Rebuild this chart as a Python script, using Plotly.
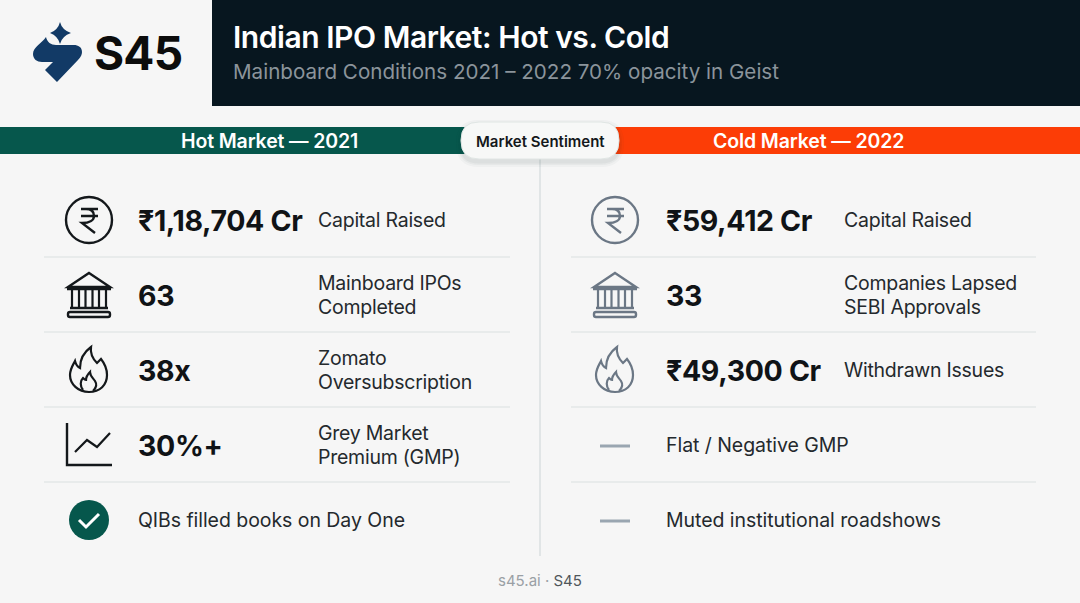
import plotly.graph_objects as go

W, H = 1080, 603
FONT = "Inter"

title = "Indian IPO Market: Hot vs. Cold"
subtitle = "Mainboard Conditions 2021 – 2022 70% opacity in Geist"
brand = "S45"
hot_header = "Hot Market — 2021"
cold_header = "Cold Market — 2022"
pill_text = "Market Sentiment"

hot_values = ["₹1,18,704 Cr", "63", "38x", "30%+", ""]
hot_labels = ["Capital Raised", "Mainboard IPOs\nCompleted", "Zomato\nOversubscription",
              "Grey Market\nPremium (GMP)", ""]
hot_notes = ["", "", "", "", "QIBs filled books on Day One"]
hot_icons = ["rupee", "bank", "flame", "chart", "check"]

cold_values = ["₹59,412 Cr", "33", "₹49,300 Cr", "", ""]
cold_labels = ["Capital Raised", "Companies Lapsed\nSEBI Approvals", "Withdrawn Issues", "", ""]
cold_notes = ["", "", "", "Flat / Negative GMP", "Muted institutional roadshows"]
cold_icons = ["rupee", "bank", "flame", "dash", "dash"]

row_y = [220, 295, 370, 445, 520]
sep_y = [257, 332, 407, 482]

BG = "#f6f6f6"
NAVY = "#07161f"
GREEN = "#06574c"
ORANGE = "#fc3d06"
INK = "#14181b"
SEP = "#d9dfe0"
HOT_ICON = "#14181b"
COLD_ICON = "#6b7785"
LOGO = "#123a66"

shapes = []
annotations = []


def text(x, y, s, size, color=INK, weight=400, anchor="left", spacing=0):
    if spacing:
        s = f'<span style="letter-spacing:{spacing}px">{s}</span>'
    annotations.append(dict(x=x, y=y, text=s, showarrow=False, xanchor=anchor, yanchor="middle",
                            borderpad=0, font=dict(family=FONT, size=size, color=color, weight=weight)))


def rect(x0, y0, x1, y1, fill):
    shapes.append(dict(type="rect", x0=x0, y0=y0, x1=x1, y1=y1, fillcolor=fill, line_width=0))


def path(d, fill=None, line=None, width=0):
    shapes.append(dict(type="path", path=d, fillcolor=fill or "rgba(0,0,0,0)",
                       line=dict(color=line or "rgba(0,0,0,0)", width=width)))


def rounded(x0, y0, x1, y1, r):
    return (f"M{x0+r},{y0} L{x1-r},{y0} Q{x1},{y0} {x1},{y0+r} L{x1},{y1-r} Q{x1},{y1} {x1-r},{y1} "
            f"L{x0+r},{y1} Q{x0},{y1} {x0},{y1-r} L{x0},{y0+r} Q{x0},{y0} {x0+r},{y0} Z")


def circle(cx, cy, r, fill=None, line=None, width=0):
    shapes.append(dict(type="circle", x0=cx-r, y0=cy-r, x1=cx+r, y1=cy+r,
                       fillcolor=fill or "rgba(0,0,0,0)",
                       line=dict(color=line or "rgba(0,0,0,0)", width=width)))


def rupee_icon(cx, cy, color):
    circle(cx, cy, 23, line=color, width=2.4)
    path(f"M{cx-8},{cy-11} L{cx+9},{cy-11} M{cx-8},{cy-4} L{cx+9},{cy-4} "
         f"M{cx-3},{cy-11} C{cx+3},{cy-11} {cx+5},{cy-8} {cx+5},{cy-4} "
         f"C{cx+5},{cy} {cx+1},{cy+3} {cx-7},{cy+3} L{cx+6},{cy+13}", line=color, width=2.4)


def bank_icon(cx, cy, color):
    path(f"M{cx},{cy-22} L{cx+21},{cy-8} L{cx-21},{cy-8} Z", line=color, width=2.4)
    path(f"M{cx-22},{cy-6} L{cx+22},{cy-6}", line=color, width=2.6)
    for dx in (-17, -10, -3.5, 3.5, 10, 17):
        path(f"M{cx+dx},{cy-5} L{cx+dx},{cy+12}", line=color, width=2.2)
    path(f"M{cx-19},{cy+13} L{cx+19},{cy+13}", line=color, width=2.4)
    path(rounded(cx-21, cy+17, cx+21, cy+22, 2), line=color, width=2.4)


def flame_icon(cx, cy, color):
    def p(x, y):
        return f"{cx+x},{cy+y}"
    outer = (f"M{p(0,22)} C{p(-11,22)} {p(-19,14)} {p(-19,5)} C{p(-19,-1)} {p(-16,-5)} {p(-14,-9)} "
             f"C{p(-13,-5)} {p(-11,-3)} {p(-9,-2)} C{p(-9,-11)} {p(-5,-18)} {p(2,-23)} "
             f"C{p(1,-16)} {p(4,-11)} {p(8,-7)} C{p(9,-8)} {p(11,-10)} {p(12,-11)} "
             f"C{p(16,-6)} {p(18,-1)} {p(18,5)} C{p(18,15)} {p(11,22)} {p(0,22)} Z")
    inner = (f"M{p(-6,20)} C{p(-9,16)} {p(-9,11)} {p(-6,8)} C{p(-5,9)} {p(-4,10)} {p(-3,10)} "
             f"C{p(-3,7)} {p(-1,4)} {p(1,2)} C{p(1,6)} {p(4,8)} {p(6,11)} C{p(8,14)} {p(7,18)} {p(4,21)}")
    path(outer, line=color, width=2.2)
    path(inner, line=color, width=2.2)


def chart_icon(cx, cy, color):
    path(f"M{cx-22},{cy-22} L{cx-22},{cy+20} L{cx+23},{cy+20}", line=color, width=2.4)
    path(f"M{cx-14},{cy+7} L{cx-2},{cy-5} L{cx+8},{cy+2} L{cx+21},{cy-12}", line=color, width=2.2)


def check_icon(cx, cy, color):
    circle(cx, cy, 20, fill=color)
    path(f"M{cx-10},{cy} L{cx-3},{cy+7} L{cx+10},{cy-6}", line="#ffffff", width=3)


def dash_icon(cx, cy, color):
    path(f"M{cx-15},{cy+1} L{cx+15},{cy+1}", line="#9aa6b1", width=3)


ICONS = dict(rupee=rupee_icon, bank=bank_icon, flame=flame_icon, chart=chart_icon, check=check_icon)
ICONS["dash"] = dash_icon


def column(x_icon, x_value, x_label, x_sep0, x_sep1, values, labels, notes, icons, icon_color):
    for i, y in enumerate(row_y):
        color = GREEN if icons[i] == "check" else icon_color
        ICONS[icons[i]](x_icon, y, color)
        if values[i]:
            text(x_value, y, values[i], 28.5, weight=700, color="#101316", spacing=-0.35)
        if notes[i]:
            text(x_value, y, notes[i], 19.5, color="#24292d", spacing=-0.05)
        lines = labels[i].split("\n")
        for j, line in enumerate(lines):
            text(x_label, y + (j - (len(lines) - 1) / 2) * 24, line, 19.5, color="#24292d", spacing=-0.25)
    for y in sep_y:
        path(f"M{x_sep0},{y} L{x_sep1},{y}", line=SEP, width=1.2)


# header
rect(212, 0, W, 106, NAVY)
text(232, 37, title, 30, color="#ffffff", weight=600, spacing=-0.45)
text(232, 71, subtitle, 20.6, color="#8b949b")

# logo
path("M46,37 C42,43 33,47 33,54 C33,59 37,62 42,62 L53,62 L45,70 L57,82 L78,60 "
     "C81,57 82,54 82,52 C82,47 78,45 74,45 L56,45 C51,45 47,42 46,37 Z", fill=LOGO)
path("M60,22 Q62,30 71,33 Q62,36 60,44 Q58,36 50,33 Q58,30 60,22 Z", fill=LOGO)
text(93, 53, brand, 46, color="#0c0c0c", weight=700, spacing=-0.8)

# sentiment bands
rect(0, 127, 470, 154, GREEN)
rect(610, 127, W, 154, ORANGE)
text(269, 141, hot_header, 19.5, color="#ffffff", weight=600, anchor="center", spacing=-0.12)
text(808, 141, cold_header, 19.5, color="#ffffff", weight=600, anchor="center", spacing=-0.12)

# centre divider, pill with a soft shadow
path(f"M540,158 L540,556", line=SEP, width=1.4)
for grow, alpha in ((5, 0.03), (3, 0.04), (1.5, 0.05)):
    path(rounded(461 - grow, 122 - grow + 3, 619 + grow, 159 + grow + 3, 18 + grow),
         fill=f"rgba(30,50,50,{alpha})")
path(rounded(461, 122, 619, 159, 18), fill="#f7f8f7", line="#e0e6e4", width=1)
text(540, 141, pill_text, 15, weight=600, anchor="center")

column(89, 137, 317, 44, 510, hot_values, hot_labels, hot_notes, hot_icons, HOT_ICON)
column(615, 665, 843, 571, 1036, cold_values, cold_labels, cold_notes, cold_icons, COLD_ICON)

# footer
text(540, 580, '<span style="color:#9aa0a5">s45.ai · </span><span style="color:#50565b">S45</span>',
     15, anchor="center")

fig = go.Figure()
fig.update_layout(
    width=W, height=H,
    margin=dict(l=0, r=0, t=0, b=0),
    paper_bgcolor=BG, plot_bgcolor=BG,
    xaxis=dict(range=[0, W], visible=False, fixedrange=True),
    yaxis=dict(range=[H, 0], visible=False, fixedrange=True),
    shapes=shapes,
    annotations=annotations,
    showlegend=False,
)

fig.write_html("out.html", config=dict(displayModeBar=False),
               post_script="document.body.style.margin='0';document.documentElement.style.background='#f6f6f6';")
